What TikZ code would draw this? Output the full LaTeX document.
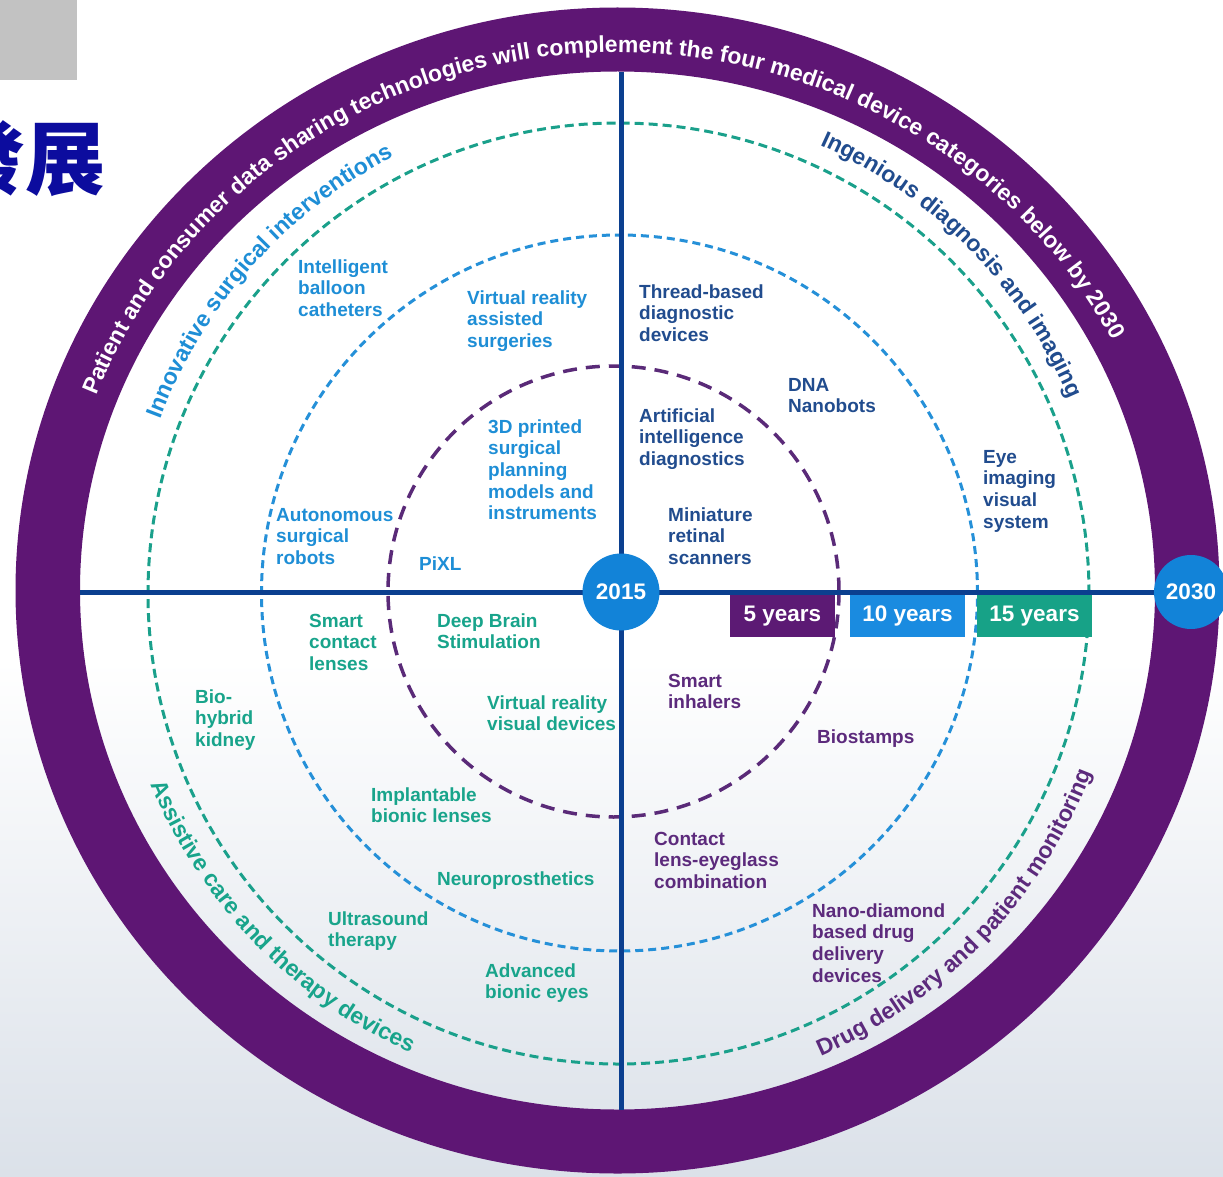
\documentclass[tikz,border=0pt]{standalone}
\usepackage{fontspec}
\setmainfont{Liberation Sans}
\newfontfamily\cjkfont{Noto Sans CJK TC}
\usetikzlibrary{decorations.text}
\definecolor{ringpurple}{HTML}{5E1674}
\definecolor{axisnavy}{HTML}{0B3F8F}
\definecolor{dotblue}{HTML}{1283D8}
\definecolor{dashpurple}{HTML}{5A2A78}
\definecolor{dashblue}{HTML}{2590D8}
\definecolor{dashgreen}{HTML}{1AA08B}
\definecolor{txlblue}{HTML}{1E8ED6}
\definecolor{txnavy}{HTML}{214C8E}
\definecolor{txteal}{HTML}{18A48B}
\definecolor{txpurple}{HTML}{5C2A7C}
\definecolor{boxpurple}{HTML}{5C1A74}
\definecolor{boxblue}{HTML}{1A8BE0}
\definecolor{boxteal}{HTML}{17A287}
\definecolor{cjkblue}{HTML}{0C0C9E}
\definecolor{bggray}{HTML}{DBE1E9}
\definecolor{greybox}{HTML}{C2C2C2}
\newcommand\fl{\rule{0pt}{15pt}}
\newcommand\ringfont{\color{white}\bfseries\fontsize{23}{25}\selectfont}
\newcommand\qfont{\bfseries\fontsize{23}{25}\selectfont}
\tikzset{
  lab/.style={inner sep=0pt, anchor=north west, align=left, font=\bfseries\fontsize{19}{21.6}\selectfont},
  purpdash/.style={draw=dashpurple, line width=3.5pt, dash pattern=on 14pt off 9pt},
  bluedash/.style={draw=dashblue, line width=3pt, dash pattern=on 8pt off 5pt},
  greendash/.style={draw=dashgreen, line width=3pt, dash pattern=on 9pt off 5pt},
  axisline/.style={draw=axisnavy, line width=5pt},
  yeardot/.style={circle, fill=dotblue, text=white, inner sep=0pt, font=\bfseries\fontsize{22.5}{24}\selectfont},
  yrbox/.style={rectangle, inner sep=0pt, minimum height=42pt, text=white, font=\bfseries\fontsize{22.5}{24}\selectfont},
}
\begin{document}
\begin{tikzpicture}[x=1pt,y=1pt]
\useasboundingbox (0,0) rectangle (1223,-1177);
\clip (0,0) rectangle (1223,-1177);
% background
\fill[white] (0,0) rectangle (1223,-1177);
\shade[top color=white, bottom color=bggray] (0,-660) rectangle (1223,-1177);
% grey box and title
\fill[greybox] (0,0) rectangle (77,-80);
\node[anchor=base east, inner sep=0pt, text=cjkblue, font=\cjkfont\bfseries\fontsize{80}{80}\selectfont] (title) at (106,-189) {發展};
% ring
\coordinate (ringc) at (617.5,-590.5);
\fill[ringpurple, even odd rule] (ringc) ellipse [x radius=602, y radius=583] (ringc) ellipse [x radius=537.5, y radius=519];
% dashed circles
\draw[greendash] (618.5,-593.5) circle [radius=470.5];
\draw[bluedash] (619.5,-593) circle [radius=358];
\draw[purpdash] (613.5,-591.5) circle [radius=225.5];
% axes
\coordinate (axL) at (80,-592);
\coordinate (axR) at (1191,-592);
\coordinate (axT) at (621,-72);
\coordinate (axB) at (621,-1110);
\draw[axisline] (axL) -- (axR);
\draw[axisline] (axT) -- (axB);
% year markers
\node[yeardot, minimum size=77pt] (y2015) at (621,-592) {2015};
\node[yeardot, minimum size=74pt] (y2030) at (1191,-592) {2030};
\node[yrbox, fill=boxpurple, minimum width=105pt] (b5) at (782.5,-616) {5 years};
\node[yrbox, fill=boxblue, minimum width=115pt] (b10) at (907.5,-616) {10 years};
\node[yrbox, fill=boxteal, minimum width=115pt] (b15) at (1034.5,-616) {15 years};
% ring text
\path[decorate, decoration={text along path, text align=center, text={|\ringfont|Patient and consumer data sharing technologies will complement the four medical device categories below by 2030}}] ([shift={(175:559 and 538)}]ringc) arc [start angle=175, end angle=11.6, x radius=559, y radius=538];
% quadrant titles
\coordinate (qc) at (619,-592);
\path[decorate, decoration={text along path, text align=center, text={|\qfont\color{txlblue}|Innovative surgical interventions}}] ([shift={(168.4:490)}]qc) arc [start angle=168.4, end angle=108.4, radius=490];
\path[decorate, decoration={text along path, text align=center, text={|\qfont\color{txnavy}|Ingenious diagnosis and imaging}}] ([shift={(74.5:490)}]qc) arc [start angle=74.5, end angle=14.5, radius=490];
\path[decorate, decoration={text along path, text align=center, text={|\qfont\color{txteal}|Assistive care and therapy devices}}] ([shift={(194:506)}]qc) arc [start angle=194, end angle=254, radius=506];
\path[decorate, decoration={text along path, text align=center, text={|\qfont\color{txpurple}|Drug delivery and patient monitoring}}] ([shift={(286.3:506)}]qc) arc [start angle=286.3, end angle=346.3, radius=506];
% top-left items
\node[lab, text=txlblue] (balloon) at (298,-258) {\fl Intelligent\\balloon\\catheters};
\node[lab, text=txlblue] (vrsurg) at (467,-289) {\fl Virtual reality\\assisted\\surgeries};
\node[lab, text=txlblue] (print3d) at (488,-418) {\fl 3D printed\\surgical\\planning\\models and\\instruments};
\node[lab, text=txlblue] (auton) at (276,-506) {\fl Autonomous\\surgical\\robots};
\node[lab, text=txlblue] (pixl) at (419,-555) {\fl PiXL};
% top-right items
\node[lab, text=txnavy] (thread) at (639,-283) {\fl Thread-based\\diagnostic\\devices};
\node[lab, text=txnavy] (dna) at (788,-376) {\fl DNA\\Nanobots};
\node[lab, text=txnavy] (aidiag) at (639,-407) {\fl Artificial\\intelligence\\diagnostics};
\node[lab, text=txnavy] (mini) at (668,-506) {\fl Miniature\\retinal\\scanners};
\node[lab, text=txnavy] (eye) at (983,-448) {\fl Eye\\imaging\\visual\\system};
% bottom-left items
\node[lab, text=txteal] (smartcl) at (309,-612) {\fl Smart\\contact\\lenses};
\node[lab, text=txteal] (dbs) at (437,-612) {\fl Deep Brain\\Stimulation};
\node[lab, text=txteal] (vrvis) at (487,-694) {\fl Virtual reality\\visual devices};
\node[lab, text=txteal] (implant) at (371,-786) {\fl Implantable\\bionic lenses};
\node[lab, text=txteal] (neuro) at (437,-870) {\fl Neuroprosthetics};
\node[lab, text=txteal] (biohyb) at (195,-688) {\fl Bio-\\hybrid\\kidney};
\node[lab, text=txteal] (ultra) at (328,-910) {\fl Ultrasound\\therapy};
\node[lab, text=txteal] (advbion) at (485,-962) {\fl Advanced\\bionic eyes};
% bottom-right items
\node[lab, text=txpurple] (inhal) at (668,-672) {\fl Smart\\inhalers};
\node[lab, text=txpurple] (biost) at (817,-728) {\fl Biostamps};
\node[lab, text=txpurple] (contact) at (654,-830) {\fl Contact\\lens-eyeglass\\combination};
\node[lab, text=txpurple] (nano) at (812,-902) {\fl Nano-diamond\\based drug\\delivery\\devices};
\end{tikzpicture}
\end{document}
